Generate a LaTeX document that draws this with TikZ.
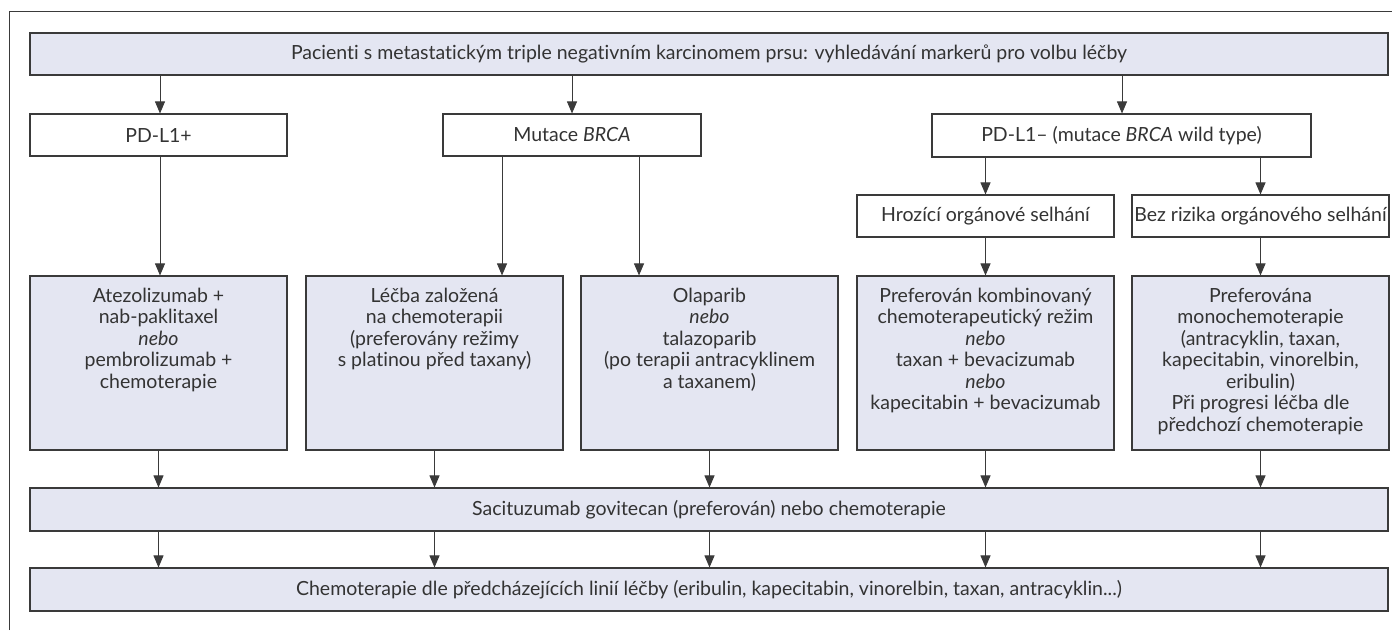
\documentclass[tikz,border=0pt]{standalone}
\usepackage{fontspec}
\setmainfont{Lato}[Ligatures=NoCommon, RawFeature={-liga;-dlig;-calt}]
\usetikzlibrary{arrows.meta}
\definecolor{boxfill}{HTML}{E4E6F2}
\definecolor{edge}{HTML}{3A3A3A}
\definecolor{ink}{HTML}{333333}
\newcommand\bigtext[1]{\parbox[c][174pt][t]{250pt}{\centering\vspace*{12pt}#1\par}}
\tikzset{
  base/.style={draw=edge, line width=1.1pt, text=ink, inner sep=0pt, align=center,
    font=\fontsize{19.5}{21.5}\selectfont},
  plainbox/.style={base, fill=white, minimum height=42pt},
  widebox/.style={base, fill=boxfill, minimum width=1358pt, minimum height=42pt},
  bigbox/.style={base, fill=boxfill, minimum width=257pt, minimum height=174pt},
  arr/.style={draw=edge, line width=0.9pt, -{Triangle[length=12pt,width=10pt]}},
}
\begin{document}
\begin{tikzpicture}[x=1pt,y=-1pt]
\useasboundingbox (0,0) rectangle (1392,630);
\draw[edge, line width=1pt] (9,630) -- (9,11) -- (1392,11);

\node[widebox] (top) at (709,54) {Pacienti s metastatickým triple negativním karcinomem prsu: vyhledávání markerů pro volbu léčby};

\node[plainbox, minimum width=257pt] (pdlp) at (158.5,135) {PD-L1+};
\node[plainbox, minimum width=258pt] (mut) at (572,135) {Mutace \textit{BRCA}};
\node[plainbox, minimum width=379pt, minimum height=43pt] (pdlm) at (1121.5,135.5) {PD-L1– (mutace \textit{BRCA} wild type)};
\node[plainbox, minimum width=257pt] (hroz) at (985.5,216) {Hrozící orgánové selhání};
\node[plainbox, minimum width=257pt] (bez) at (1260.5,216) {Bez rizika orgánového selhání};

\node[bigbox] (b1) at (158.5,363) {\bigtext{Atezolizumab +\\ nab-paklitaxel\\ \textit{nebo}\\ pembrolizumab +\\ chemoterapie}};
\node[bigbox] (b2) at (434.5,363) {\bigtext{Léčba založená\\ na chemoterapii\\ (preferovány režimy\\ s platinou před taxany)}};
\node[bigbox] (b3) at (709.5,363) {\bigtext{Olaparib\\ \textit{nebo}\\ talazoparib\\ (po terapii antracyklinem\\ a taxanem)}};
\node[bigbox] (b4) at (985.5,363) {\bigtext{Preferován kombinovaný\\ chemoterapeutický režim\\ \textit{nebo}\\ taxan + bevacizumab\\ \textit{nebo}\\ kapecitabin + bevacizumab}};
\node[bigbox] (b5) at (1260.5,363) {\bigtext{Preferována\\ monochemoterapie\\ (antracyklin, taxan,\\ kapecitabin, vinorelbin,\\ eribulin)\\ Při progresi léčba dle\\ předchozí chemoterapie}};

\node[widebox, minimum height=43pt] (saci) at (709,509.5) {Sacituzumab govitecan (preferován) nebo chemoterapie};
\node[widebox, minimum height=43pt] (chemo) at (709,589.5) {Chemoterapie dle předcházejících linií léčby (eribulin, kapecitabin, vinorelbin, taxan, antracyklin...)};

\coordinate (m1) at (502,0);
\coordinate (m2) at (639,0);
\coordinate (t1) at (160,0);
\coordinate (t3) at (1122,0);

\draw[arr] (top.south -| t1) -- (pdlp.north -| t1);
\draw[arr] (top.south -| mut.north) -- (mut.north);
\draw[arr] (top.south -| t3) -- (pdlm.north -| t3);

\draw[arr] (pdlp.south -| t1) -- (b1.north -| t1);
\draw[arr] (mut.south -| m1) -- (b2.north -| m1);
\draw[arr] (mut.south -| m2) -- (b3.north -| m2);
\draw[arr] (pdlm.south -| hroz.north) -- (hroz.north);
\draw[arr] (pdlm.south -| bez.north) -- (bez.north);
\draw[arr] (hroz.south) -- (b4.north);
\draw[arr] (bez.south) -- (b5.north);

\foreach \b in {b1,b2,b3,b4,b5}{
  \draw[arr] (\b.south) -- (saci.north -| \b.south);
  \draw[arr] (saci.south -| \b.south) -- (chemo.north -| \b.south);
}
\end{tikzpicture}
\end{document}
